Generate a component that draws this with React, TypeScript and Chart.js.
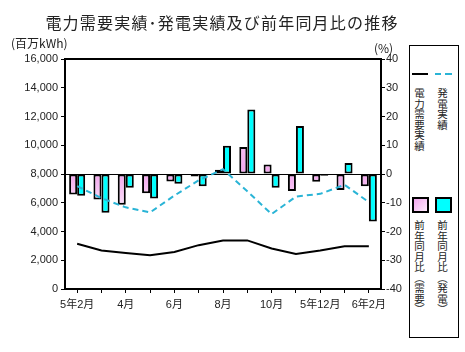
import React, { useEffect, useRef } from 'react';
import { Chart, registerables } from 'chart.js';
Chart.register(...registerables);

const titleText = '電力需要実績･発電実績及び前年同月比の推移';
const categories = ['5年2月', '3月', '4月', '5月', '6月', '7月', '8月', '9月', '10月', '11月', '5年12月', '6年1月', '6年2月'];
const demandActual = [3150, 2680, 2510, 2350, 2580, 3050, 3380, 3380, 2820, 2440, 2680, 2980, 2980];
const generationActual = [7160, 6320, 5680, 5330, 6500, 7560, 8330, 6800, 5210, 6430, 6620, 7250, 6040];
const demandYoY = [-7.1, -8.9, -10.7, -6.7, -2.6, -0.9, 1.5, 9.4, 3.3, -5.9, -2.7, -5.6, -4.3];
const generationYoY = [-7.6, -13.5, -4.8, -8.5, -3.4, -4.3, 9.8, 22.4, -4.8, 16.7, -0.6, 3.8, -16.5];

const PINK = '#f3a6ee';
const CYAN = '#00ffff';
const DASH = '#2ab4d6';
const TICK_FONT = { family: '"Liberation Sans", "Noto Sans CJK JP", sans-serif', size: 11 };

const decor = {
  id: 'decor',
  afterDraw(chart: any) {
    const { ctx, chartArea: a } = chart;
    ctx.save();
    ctx.strokeStyle = '#000';
    ctx.lineWidth = 2;
    ctx.strokeRect(a.left, a.top, a.right - a.left, a.bottom - a.top);
    ctx.fillStyle = '#222';
    ctx.font = '16px "Noto Sans CJK JP"';
    ctx.textAlign = 'center';
    ctx.textBaseline = 'middle';
    try { ctx.letterSpacing = '1.2px'; } catch (e) {}
    ctx.fillText(titleText, 222, 23);
    try { ctx.letterSpacing = '0px'; } catch (e) {}
    ctx.font = '12px "Noto Sans CJK JP"';
    ctx.textAlign = 'left';
    ctx.fillText('(百万kWh)', 11, 43);
    ctx.fillText('(%)', 374, 48);
    ctx.restore();
  },
};

function pinkFill(c: any) {
  const chart = c.chart;
  const a = chart.chartArea;
  if (!a) return PINK;
  const y0 = chart.scales.y1.getPixelForValue(0);
  const g = chart.ctx.createLinearGradient(0, a.top, 0, a.bottom);
  const p = Math.min(Math.max((y0 - a.top) / (a.bottom - a.top), 0.01), 0.99);
  g.addColorStop(0, '#ffffff');
  g.addColorStop(p * 0.55, '#f8d0f4');
  g.addColorStop(p, PINK);
  g.addColorStop(p + (1 - p) * 0.3, '#fbe6f9');
  g.addColorStop(1, '#ffffff');
  return g;
}

export default function App() {
  const ref = useRef<HTMLCanvasElement>(null);
  useEffect(() => {
    if (!ref.current) return;
    const chart = new Chart(ref.current, {
      data: {
        labels: categories,
        datasets: [
          {
            type: 'line',
            label: '電力需要実績',
            data: demandActual,
            yAxisID: 'y',
            borderColor: '#000',
            borderWidth: 2,
            pointRadius: 0,
            tension: 0,
            order: 0,
          },
          {
            type: 'line',
            label: '発電実績',
            data: generationActual,
            yAxisID: 'y',
            borderColor: DASH,
            borderWidth: 2,
            borderDash: [6, 4],
            pointRadius: 0,
            tension: 0,
            order: 0,
          },
          {
            type: 'bar',
            label: '前年同月比（需要）',
            data: demandYoY,
            yAxisID: 'y1',
            backgroundColor: pinkFill,
            borderColor: '#000',
            borderWidth: 2,
            borderSkipped: false,
            categoryPercentage: 0.66,
            barPercentage: 1,
            order: 1,
          },
          {
            type: 'bar',
            label: '前年同月比（発電）',
            data: generationYoY,
            yAxisID: 'y1',
            backgroundColor: CYAN,
            borderColor: '#000',
            borderWidth: 2,
            borderSkipped: false,
            categoryPercentage: 0.66,
            barPercentage: 1,
            order: 1,
          },
        ],
      } as any,
      options: {
        animation: false,
        responsive: false,
        devicePixelRatio: 1,
        layout: { padding: { top: 59, left: 0, right: 0, bottom: 0 } },
        plugins: { legend: { display: false }, title: { display: false }, tooltip: { enabled: false } },
        scales: {
          x: {
            offset: true,
            border: { display: false },
            grid: { offset: false, drawOnChartArea: false, drawTicks: true, tickLength: 4, tickColor: '#000', lineWidth: 1 },
            ticks: {
              autoSkip: false,
              maxRotation: 0,
              minRotation: 0,
              padding: 5,
              color: '#222',
              font: TICK_FONT,
              callback: (v: any, i: number) => (i % 2 === 0 ? categories[i] : ''),
            },
            afterFit: (s: any) => { s.height = 63; },
          },
          y: {
            position: 'left',
            min: 0,
            max: 16000,
            border: { display: false },
            grid: { drawOnChartArea: false, drawTicks: true, tickLength: 4, tickColor: '#000' },
            ticks: {
              stepSize: 2000,
              padding: 3,
              color: '#222',
              font: TICK_FONT,
              callback: (v: any) => Number(v).toLocaleString('en-US'),
            },
            afterFit: (s: any) => { s.width = 65; },
          },
          y1: {
            position: 'right',
            min: -40,
            max: 40,
            border: { display: false },
            grid: {
              drawOnChartArea: true,
              drawTicks: true,
              tickLength: 4,
              tickColor: '#000',
              lineWidth: 1,
              color: (c: any) => (c.tick && c.tick.value === 0 ? '#000' : 'rgba(0,0,0,0)'),
            },
            ticks: { stepSize: 10, padding: 1, color: '#222', font: TICK_FONT },
            afterFit: (s: any) => { s.width = 24; },
          },
        },
      } as any,
      plugins: [decor],
    });
    return () => chart.destroy();
  }, []);

  const vText: React.CSSProperties = {
    position: 'absolute',
    writingMode: 'vertical-rl',
    textOrientation: 'mixed',
    fontFamily: '"Noto Sans CJK JP", sans-serif',
    fontSize: 10.5,
    lineHeight: '11px',
    width: 11,
    color: '#222',
    whiteSpace: 'nowrap',
  };

  return (
    <div style={{ position: 'absolute', left: 0, top: 0, width: 465, height: 352, background: '#fff' }}>
      <canvas ref={ref} width={405} height={352} style={{ position: 'absolute', left: 0, top: 0, width: 405, height: 352 }} />
      <div style={{ position: 'absolute', left: 409, top: 45, width: 50, height: 293, border: '1px solid #000', boxSizing: 'border-box' }} />
      <div style={{ position: 'absolute', left: 412, top: 73, width: 16, height: 2, background: '#000' }} />
      <div style={{ position: 'absolute', left: 435, top: 73, width: 6, height: 2, background: DASH }} />
      <div style={{ position: 'absolute', left: 445, top: 73, width: 7, height: 2, background: DASH }} />
      <div style={{ ...vText, left: 414, top: 88 }}>電力需要実績</div>
      <div style={{ ...vText, left: 437, top: 88 }}>発電実績</div>
      <div style={{ position: 'absolute', left: 412, top: 197, width: 17, height: 16, border: '2px solid #000', boxSizing: 'border-box', background: 'linear-gradient(135deg, #f3a6ee, #fde9fb)' }} />
      <div style={{ position: 'absolute', left: 435, top: 197, width: 17, height: 16, border: '2px solid #000', boxSizing: 'border-box', background: CYAN }} />
      <div style={{ ...vText, left: 414, top: 220 }}>前年同月比（需要）</div>
      <div style={{ ...vText, left: 437, top: 220 }}>前年同月比（発電）</div>
    </div>
  );
}
